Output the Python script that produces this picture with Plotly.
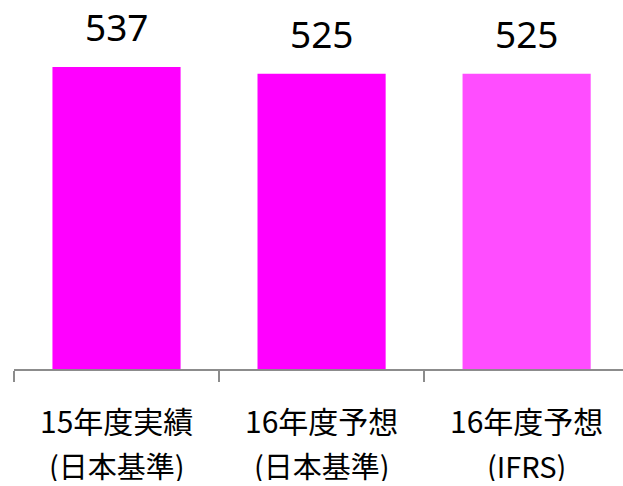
import plotly.graph_objects as go

categories = ["15年度実績", "16年度予想", "16年度予想"]
sub_labels = ["(日本基準)", "(日本基準)", "(IFRS)"]
values = [537, 525, 525]
colors = ["#FF00FF", "#FF00FF", "#FF4DFF"]

NUM_FONT = "Noto Sans, DejaVu Sans, sans-serif"
CJK_FONT = "Noto Sans CJK JP, Noto Sans, sans-serif"
xs = list(range(len(values)))

fig = go.Figure(go.Bar(
    x=xs, y=values, marker=dict(color=colors, line=dict(width=0)),
    width=0.625, hoverinfo="skip",
))

for i, v in enumerate(values):
    fig.add_annotation(x=i, y=v, text=str(v), showarrow=False,
                       yanchor="middle", yshift=40,
                       font=dict(family=NUM_FONT, size=37, color="#000000"))
    fig.add_annotation(x=i, y=0, yref="paper", text=categories[i], showarrow=False,
                       yanchor="middle", yshift=-51, height=32,
                       font=dict(family=CJK_FONT, size=30, color="#000000"))
    fig.add_annotation(x=i, y=0, yref="paper", text=sub_labels[i], showarrow=False,
                       yanchor="middle", yshift=-96, height=32,
                       font=dict(family=CJK_FONT, size=29, color="#000000"))

fig.update_layout(
    width=623, height=486,
    margin=dict(l=14, r=0, t=0, b=117),
    plot_bgcolor="white", paper_bgcolor="white",
    showlegend=False,
    xaxis=dict(range=[-0.5, 2.47], tickvals=[-0.5, 0.5, 1.5], ticktext=["", "", ""],
               ticks="outside", ticklen=11, tickcolor="#8c8c8c", tickwidth=1.5,
               showline=True, linecolor="#8c8c8c", linewidth=1.5,
               showgrid=False, zeroline=False),
    yaxis=dict(range=[0, 656], visible=False, showgrid=False, zeroline=False),
)

# the page's default body margin would push the chart 8px off; drop it
fig.write_html("out.html", config={"displayModeBar": False},
               post_script="document.body.style.margin='0';")
